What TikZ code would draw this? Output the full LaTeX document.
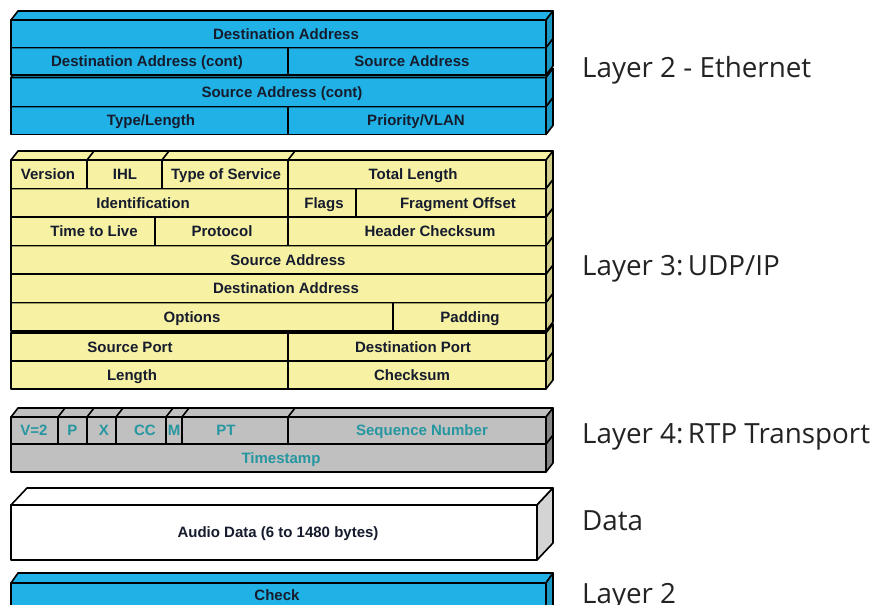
\documentclass[tikz,border=0pt]{standalone}
\usepackage{fontspec}
\newfontfamily\cellfont{Liberation Sans}
\newfontfamily\layerfont{Open Sans}
\definecolor{ethblue}{RGB}{32,178,230}
\definecolor{ipyellow}{RGB}{246,241,163}
\definecolor{rtpgray}{RGB}{192,192,192}
\definecolor{rtpteal}{RGB}{38,150,160}
\definecolor{sidegray}{RGB}{212,212,212}
\definecolor{fieldtext}{RGB}{22,28,45}
\definecolor{layertext}{RGB}{35,35,35}
\newcommand{\lwdth}{1.6pt}

\begin{document}
\begin{tikzpicture}[
    x=1pt, y=-1pt,
    bar/.style={draw=black, line width=\lwdth, line join=round},
    eth/.style={bar, fill=ethblue},
    ethside/.style={bar, fill=ethblue!85!black},
    ip/.style={bar, fill=ipyellow},
    ipside/.style={bar, fill=ipyellow!85!black},
    rtp/.style={bar, fill=rtpgray},
    rtpside/.style={bar, fill=rtpgray!70!black},
    audio/.style={bar, fill=white},
    audioside/.style={bar, fill=sidegray},
    divider/.style={draw=black, line width=\lwdth},
    field/.style={font=\cellfont\bfseries\fontsize{15}{18}\selectfont,
                  text=fieldtext, inner sep=0, text height=10.7pt, text depth=0pt},
    rtpfield/.style={field, text=rtpteal},
    layertag/.style={font=\layerfont\fontsize{27.8}{32}\selectfont, text=layertext,
                     anchor=west, inner sep=0, text height=19.8pt, text depth=0pt}
]

    \useasboundingbox (0,0) rectangle (879,605);
    \clip (0,0) rectangle (879,605);

    % Layer 2 - Ethernet
    \foreach \yt/\yb in {106.5/134.5, 77.5/106.5, 47.5/75, 20/47.5}{
        \filldraw[eth] (11,\yt) rectangle (546,\yb);
        \filldraw[eth] (11,\yt) -- ++(7,-9) -- (553,\yt-9) -- (546,\yt) -- cycle;
        \filldraw[ethside] (546,\yt) -- (553,\yt-9) -- (553,\yb-9) -- (546,\yb) -- cycle;
    }
    \foreach \yt/\yb in {47.5/75, 106.5/134.5}
        \draw[divider] (288,\yt) -- (288,\yb);

    \node[field] (l2dst)  at (286,34)    {Destination Address};
    \node[field] (l2dstc) at (147,61)    {Destination Address (cont)};
    \node[field] (l2src)  at (412,61)    {Source Address};
    \node[field] (l2srcc) at (282,92)    {Source Address (cont)};
    \node[field] (l2type) at (151,120.5) {Type/Length};
    \node[field] (l2prio) at (416,120.5) {Priority/VLAN};

    % Layer 3 - IP + UDP
    \foreach \yt/\yb in {361/389, 333/361, 302.5/331, 274/302.5,
                         245.5/274, 217/245.5, 188.5/217, 160/188.5}{
        \filldraw[ip] (11,\yt) rectangle (546,\yb);
        \filldraw[ip] (11,\yt) -- ++(7,-9) -- (553,\yt-9) -- (546,\yt) -- cycle;
        \filldraw[ipside] (546,\yt) -- (553,\yt-9) -- (553,\yb-9) -- (546,\yb) -- cycle;
    }
    \foreach \x/\yt/\yb in {87/160/188.5, 162/160/188.5, 288/160/188.5,
                            288/188.5/217, 356/188.5/217,
                            155/217/245.5, 288/217/245.5,
                            393/302.5/331, 288/333/361, 288/361/389}
        \draw[divider] (\x,\yt) -- (\x,\yb);
    \foreach \x in {87,162,288}
        \draw[divider] (\x,160) -- ++(7,-9);

    \node[field] (ipver)   at (48,174)  {Version};
    \node[field] (ipihl)   at (125,174) {IHL};
    \node[field] (iptos)   at (226,174) {Type of Service};
    \node[field] (iplen)   at (413,174) {Total Length};
    \node[field] (ipid)    at (143,203) {Identification};
    \node[field] (ipflags) at (324,203) {Flags};
    \node[field] (ipfrag)  at (458,203) {Fragment Offset};
    \node[field] (ipttl)   at (94,231)  {Time to Live};
    \node[field] (ipproto) at (222,231) {Protocol};
    \node[field] (ipcsum)  at (430,231) {Header Checksum};
    \node[field] (ipsrc)   at (288,260) {Source Address};
    \node[field] (ipdst)   at (286,288) {Destination Address};
    \node[field] (ipopt)   at (192,317) {Options};
    \node[field] (ippad)   at (470,317) {Padding};
    \node[field] (udpsrc)  at (130,347) {Source Port};
    \node[field] (udpdst)  at (413,347) {Destination Port};
    \node[field] (udplen)  at (132,375) {Length};
    \node[field] (udpcsum) at (412,375) {Checksum};

    % Layer 4 - RTP
    \foreach \yt/\yb in {444/472, 417/444}{
        \filldraw[rtp] (11,\yt) rectangle (546,\yb);
        \filldraw[rtp] (11,\yt) -- ++(7,-9) -- (553,\yt-9) -- (546,\yt) -- cycle;
        \filldraw[rtpside] (546,\yt) -- (553,\yt-9) -- (553,\yb-9) -- (546,\yb) -- cycle;
    }
    \foreach \x in {58,87,116,166,182,288}{
        \draw[divider] (\x,417) -- (\x,444);
        \draw[divider] (\x,417) -- ++(7,-9);
    }

    \node[rtpfield] (rtpv)   at (34,430.5)  {V=2};
    \node[rtpfield] (rtpp)   at (72.5,430.5) {P};
    \node[rtpfield] (rtpx)   at (104,430.5) {X};
    \node[rtpfield] (rtpcc)  at (145,430.5) {CC};
    \node[rtpfield] (rtpm)   at (174,430.5) {M};
    \node[rtpfield] (rtppt)  at (226,430.5) {PT};
    \node[rtpfield] (rtpseq) at (422,430.5) {Sequence Number};
    \node[rtpfield] (rtpts)  at (281,458)   {Timestamp};

    % Data
    \filldraw[audio] (11,505) rectangle (537,560);
    \filldraw[audio] (11,505) -- ++(16,-17) -- (553,488) -- (537,505) -- cycle;
    \filldraw[audioside] (537,505) -- (553,488) -- (553,543) -- (537,560) -- cycle;
    \node[field] (audio) at (278,532) {Audio Data (6 to 1480 bytes)};

    % Layer 2 - trailer
    \filldraw[eth] (11,583) rectangle (546,615);
    \filldraw[eth] (11,583) -- ++(7,-10) -- (553,573) -- (546,583) -- cycle;
    \filldraw[ethside] (546,583) -- (553,573) -- (553,615) -- (546,615) -- cycle;
    \node[field] (check) at (277,595) {Check};

    % layer names
    \node[layertag] (lbleth)  at (582,68)    {Layer 2 - Ethernet};
    \node[layertag] (lblip)   at (582,266)   {Layer 3:\kern-0.1em\ UDP/IP};
    \node[layertag] (lblrtp)  at (582,433.5) {Layer 4:\kern-0.1em\ RTP Transport};
    \node[layertag] (lbldata) at (582,521)   {Data};
    \node[layertag] (lblchk)  at (582,594)   {Layer 2};

\end{tikzpicture}
\end{document}
